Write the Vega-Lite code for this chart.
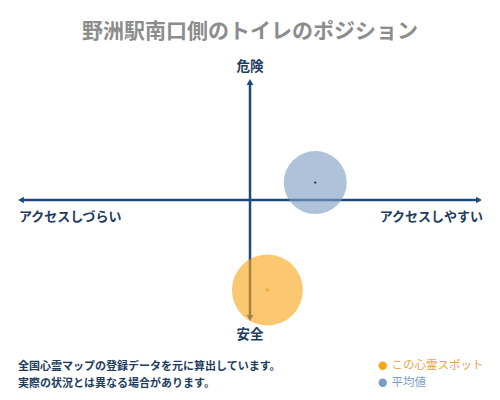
{
  "$schema": "https://vega.github.io/schema/vega-lite/v6.json",
  "width": 500,
  "height": 400,
  "padding": 0,
  "autosize": {"type": "none"},
  "background": "white",
  "title": {
    "text": "野洲駅南口側のトイレのポジション",
    "orient": "top",
    "anchor": "middle",
    "frame": "group",
    "offset": -42,
    "fontSize": 21,
    "fontWeight": "bold",
    "color": "#8c8c8c",
    "font": "Noto Sans CJK JP"
  },
  "config": {
    "view": {"stroke": null},
    "font": "Noto Sans CJK JP"
  },
  "datasets": {
    "axes": [
      {"x1": -1, "x2": 1, "y1": 0, "y2": 0},
      {"x1": 0, "x2": 0, "y1": -1, "y2": 1}
    ],
    "arrows": [
      {"end": "right", "x": 1, "y": 0},
      {"end": "left", "x": -1, "y": 0},
      {"end": "top", "x": 0, "y": 1},
      {"end": "bottom", "x": 0, "y": -1}
    ],
    "labels": [
      {"label": "危険", "x": 0, "y": 1},
      {"label": "安全", "x": 0, "y": -1},
      {"label": "アクセスしづらい", "x": -1, "y": 0},
      {"label": "アクセスしやすい", "x": 1, "y": 0}
    ],
    "points": [
      {"name": "この心霊スポット", "access": 0.076, "danger": -0.763},
      {"name": "平均値", "access": 0.285, "danger": 0.148}
    ],
    "notes": [
      {"text": "全国心霊マップの登録データを元に算出しています。", "line": 1},
      {"text": "実際の状況とは異なる場合があります。", "line": 2}
    ]
  },
  "layer": [
    {
      "data": {"name": "axes"},
      "mark": {"type": "rule", "color": "#1d4a7a", "strokeWidth": 2.5},
      "encoding": {
        "x": {"field": "x1", "type": "quantitative", "scale": {"domain": [-1.0917, 1.0917], "nice": false, "zero": false}, "axis": null},
        "x2": {"field": "x2"},
        "y": {"field": "y1", "type": "quantitative", "scale": {"domain": [-1.6949, 1.6949], "nice": false, "zero": false}, "axis": null},
        "y2": {"field": "y2"}
      }
    },
    {
      "data": {"name": "arrows"},
      "transform": [{"filter": "datum.end === 'right'"}],
      "mark": {"type": "point", "shape": "triangle-right", "filled": true, "color": "#1d4a7a", "size": 45, "opacity": 1},
      "encoding": {
        "x": {"field": "x", "type": "quantitative"},
        "y": {"field": "y", "type": "quantitative"}
      }
    },
    {
      "data": {"name": "arrows"},
      "transform": [{"filter": "datum.end === 'left'"}],
      "mark": {"type": "point", "shape": "triangle-left", "filled": true, "color": "#1d4a7a", "size": 45, "opacity": 1},
      "encoding": {
        "x": {"field": "x", "type": "quantitative"},
        "y": {"field": "y", "type": "quantitative"}
      }
    },
    {
      "data": {"name": "arrows"},
      "transform": [{"filter": "datum.end === 'top'"}],
      "mark": {"type": "point", "shape": "triangle-up", "filled": true, "color": "#1d4a7a", "size": 45, "opacity": 1},
      "encoding": {
        "x": {"field": "x", "type": "quantitative"},
        "y": {"field": "y", "type": "quantitative"}
      }
    },
    {
      "data": {"name": "arrows"},
      "transform": [{"filter": "datum.end === 'bottom'"}],
      "mark": {"type": "point", "shape": "triangle-down", "filled": true, "color": "#1d4a7a", "size": 45, "opacity": 1},
      "encoding": {
        "x": {"field": "x", "type": "quantitative"},
        "y": {"field": "y", "type": "quantitative"}
      }
    },
    {
      "data": {"name": "points"},
      "transform": [{"filter": "datum.name === '平均値'"}],
      "mark": {"type": "circle", "opacity": 0.62, "size": 3970},
      "encoding": {
        "x": {"field": "access", "type": "quantitative"},
        "y": {"field": "danger", "type": "quantitative"},
        "color": {
          "field": "name",
          "type": "nominal",
          "scale": {"domain": ["この心霊スポット", "平均値"], "range": ["#f9a51a", "#7c9dc3"]},
          "legend": {
            "title": null,
            "orient": "none",
            "legendX": 377,
            "legendY": 360,
            "symbolType": "circle",
            "symbolSize": 70,
            "symbolOpacity": 1,
            "symbolStrokeWidth": 0,
            "labelFontSize": 11.5,
            "labelFont": "Noto Sans CJK JP",
            "rowPadding": 4,
            "padding": 0,
            "labelOffset": 3,
            "encode": {
              "symbols": {"update": {"fill": {"signal": "datum.label === '平均値' ? '#7c9dc3' : '#f0a040'"}, "opacity": {"value": 1}, "size": {"value": 70}}},
              "labels": {"update": {"fill": {"signal": "datum.label === '平均値' ? '#7c9dc3' : '#e9a24a'"}}}
            }
          }
        }
      }
    },
    {
      "data": {"name": "points"},
      "transform": [{"filter": "datum.name === 'この心霊スポット'"}],
      "mark": {"type": "circle", "opacity": 0.62, "size": 5040},
      "encoding": {
        "x": {"field": "access", "type": "quantitative"},
        "y": {"field": "danger", "type": "quantitative"},
        "color": {"field": "name", "type": "nominal"}
      }
    },
    {
      "data": {"name": "points"},
      "transform": [{"filter": "datum.name === '平均値'"}],
      "mark": {"type": "circle", "color": "#1d2f45", "size": 5, "opacity": 1},
      "encoding": {
        "x": {"field": "access", "type": "quantitative"},
        "y": {"field": "danger", "type": "quantitative"}
      }
    },
    {
      "data": {"name": "points"},
      "transform": [{"filter": "datum.name === 'この心霊スポット'"}],
      "mark": {"type": "point", "shape": "diamond", "filled": true, "color": "#f5a020", "size": 14, "opacity": 1},
      "encoding": {
        "x": {"field": "access", "type": "quantitative"},
        "y": {"field": "danger", "type": "quantitative"}
      }
    },
    {
      "data": {"name": "labels"},
      "transform": [{"filter": "datum.label === '危険'"}],
      "mark": {"type": "text", "fontSize": 13.5, "fontWeight": "bold", "color": "#1d3c5e", "baseline": "middle", "dy": -15},
      "encoding": {
        "x": {"field": "x", "type": "quantitative"},
        "y": {"field": "y", "type": "quantitative"},
        "text": {"field": "label"}
      }
    },
    {
      "data": {"name": "labels"},
      "transform": [{"filter": "datum.label === '安全'"}],
      "mark": {"type": "text", "fontSize": 13.5, "fontWeight": "bold", "color": "#1d3c5e", "baseline": "middle", "dy": 17},
      "encoding": {
        "x": {"field": "x", "type": "quantitative"},
        "y": {"field": "y", "type": "quantitative"},
        "text": {"field": "label"}
      }
    },
    {
      "data": {"name": "labels"},
      "transform": [{"filter": "datum.label === 'アクセスしづらい'"}],
      "mark": {"type": "text", "fontSize": 13, "fontWeight": "bold", "color": "#1d3c5e", "align": "left", "baseline": "middle", "dx": -2, "dy": 17},
      "encoding": {
        "x": {"field": "x", "type": "quantitative"},
        "y": {"field": "y", "type": "quantitative"},
        "text": {"field": "label"}
      }
    },
    {
      "data": {"name": "labels"},
      "transform": [{"filter": "datum.label === 'アクセスしやすい'"}],
      "mark": {"type": "text", "fontSize": 13, "fontWeight": "bold", "color": "#1d3c5e", "align": "right", "baseline": "middle", "dx": 4, "dy": 17},
      "encoding": {
        "x": {"field": "x", "type": "quantitative"},
        "y": {"field": "y", "type": "quantitative"},
        "text": {"field": "label"}
      }
    },
    {
      "data": {"name": "notes"},
      "transform": [{"filter": "datum.line === 1"}],
      "mark": {"type": "text", "fontSize": 11, "fontWeight": "bold", "color": "#1d3c5e", "align": "left", "baseline": "middle"},
      "encoding": {
        "x": {"datum": -1.013, "type": "quantitative"},
        "y": {"datum": -1.415, "type": "quantitative"},
        "text": {"field": "text"}
      }
    },
    {
      "data": {"name": "notes"},
      "transform": [{"filter": "datum.line === 2"}],
      "mark": {"type": "text", "fontSize": 11, "fontWeight": "bold", "color": "#1d3c5e", "align": "left", "baseline": "middle"},
      "encoding": {
        "x": {"datum": -1.013, "type": "quantitative"},
        "y": {"datum": -1.559, "type": "quantitative"},
        "text": {"field": "text"}
      }
    }
  ]
}
